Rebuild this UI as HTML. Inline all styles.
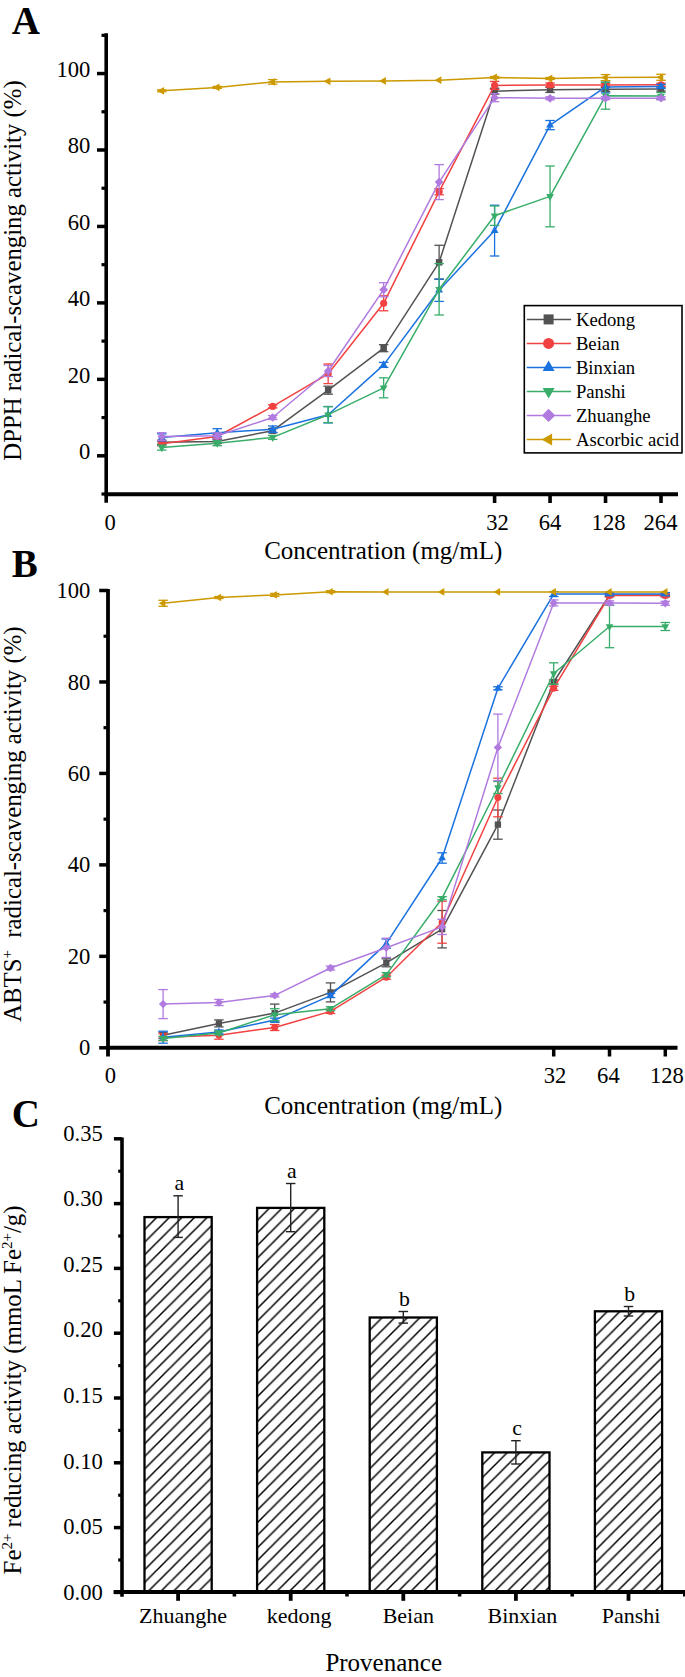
<!DOCTYPE html><html><head><meta charset="utf-8"><style>html,body{margin:0;padding:0;background:#fff;overflow:hidden;width:685px;height:1677px;}svg{display:block;}</style></head><body><svg width="685" height="1677" viewBox="0 0 685 1677" font-family='"Liberation Serif", serif'>
<rect width="685" height="1677" fill="#fff"/>
<text x="11.7" y="33.7" font-size="39" font-weight="bold">A</text>
<line x1="106.2" y1="33.2" x2="106.2" y2="502.7" stroke="#000" stroke-width="3.6"/>
<line x1="104.4" y1="494.2" x2="678" y2="494.2" stroke="#000" stroke-width="4"/>
<line x1="97" y1="455.8" x2="106.2" y2="455.8" stroke="#000" stroke-width="3.5"/>
<text x="90.3" y="459.2" font-size="22.6" text-anchor="end">0</text>
<line x1="97" y1="379.35" x2="106.2" y2="379.35" stroke="#000" stroke-width="3.5"/>
<text x="90.3" y="382.75" font-size="22.6" text-anchor="end">20</text>
<line x1="97" y1="302.9" x2="106.2" y2="302.9" stroke="#000" stroke-width="3.5"/>
<text x="90.3" y="306.3" font-size="22.6" text-anchor="end">40</text>
<line x1="97" y1="226.45" x2="106.2" y2="226.45" stroke="#000" stroke-width="3.5"/>
<text x="90.3" y="229.85" font-size="22.6" text-anchor="end">60</text>
<line x1="97" y1="150" x2="106.2" y2="150" stroke="#000" stroke-width="3.5"/>
<text x="90.3" y="153.4" font-size="22.6" text-anchor="end">80</text>
<line x1="97" y1="73.55" x2="106.2" y2="73.55" stroke="#000" stroke-width="3.5"/>
<text x="90.3" y="76.95" font-size="22.6" text-anchor="end">100</text>
<line x1="101.5" y1="417.58" x2="106.2" y2="417.58" stroke="#000" stroke-width="3.2"/>
<line x1="101.5" y1="341.12" x2="106.2" y2="341.12" stroke="#000" stroke-width="3.2"/>
<line x1="101.5" y1="264.68" x2="106.2" y2="264.68" stroke="#000" stroke-width="3.2"/>
<line x1="101.5" y1="188.23" x2="106.2" y2="188.23" stroke="#000" stroke-width="3.2"/>
<line x1="101.5" y1="111.78" x2="106.2" y2="111.78" stroke="#000" stroke-width="3.2"/>
<line x1="101.5" y1="35.33" x2="106.2" y2="35.33" stroke="#000" stroke-width="3.2"/>
<line x1="101.5" y1="494.02" x2="106.2" y2="494.02" stroke="#000" stroke-width="3.2"/>
<line x1="494.59" y1="494.2" x2="494.59" y2="503" stroke="#000" stroke-width="3.6"/>
<text x="497.59" y="530" font-size="22.6" text-anchor="middle">32</text>
<line x1="550.06" y1="494.2" x2="550.06" y2="503" stroke="#000" stroke-width="3.6"/>
<text x="550.06" y="530" font-size="22.6" text-anchor="middle">64</text>
<line x1="605.53" y1="494.2" x2="605.53" y2="503" stroke="#000" stroke-width="3.6"/>
<text x="608.53" y="530" font-size="22.6" text-anchor="middle">128</text>
<line x1="661" y1="494.2" x2="661" y2="503" stroke="#000" stroke-width="3.6"/>
<text x="660.5" y="530" font-size="22.6" text-anchor="middle">264</text>
<text x="110.1" y="529.5" font-size="22.6" text-anchor="middle">0</text>
<text x="264.2" y="558.8" font-size="25">Concentration (mg/mL)</text>
<text transform="translate(21,460) rotate(-90)" x="-0.7" y="0" font-size="24.78">DPPH radical-scavenging activity (%)</text>
<g>
<line x1="161.77" y1="440.3" x2="161.77" y2="444.3" stroke="#525252" stroke-width="1.3"/>
<line x1="157.02" y1="440.3" x2="166.52" y2="440.3" stroke="#525252" stroke-width="1.3"/>
<line x1="157.02" y1="444.3" x2="166.52" y2="444.3" stroke="#525252" stroke-width="1.3"/>
<line x1="217.24" y1="439.4" x2="217.24" y2="443.4" stroke="#525252" stroke-width="1.3"/>
<line x1="212.49" y1="439.4" x2="221.99" y2="439.4" stroke="#525252" stroke-width="1.3"/>
<line x1="212.49" y1="443.4" x2="221.99" y2="443.4" stroke="#525252" stroke-width="1.3"/>
<line x1="272.71" y1="428.7" x2="272.71" y2="432.7" stroke="#525252" stroke-width="1.3"/>
<line x1="267.96" y1="428.7" x2="277.46" y2="428.7" stroke="#525252" stroke-width="1.3"/>
<line x1="267.96" y1="432.7" x2="277.46" y2="432.7" stroke="#525252" stroke-width="1.3"/>
<line x1="328.18" y1="386.2" x2="328.18" y2="394.2" stroke="#525252" stroke-width="1.3"/>
<line x1="323.43" y1="386.2" x2="332.93" y2="386.2" stroke="#525252" stroke-width="1.3"/>
<line x1="323.43" y1="394.2" x2="332.93" y2="394.2" stroke="#525252" stroke-width="1.3"/>
<line x1="383.65" y1="344.7" x2="383.65" y2="351.7" stroke="#525252" stroke-width="1.3"/>
<line x1="378.9" y1="344.7" x2="388.4" y2="344.7" stroke="#525252" stroke-width="1.3"/>
<line x1="378.9" y1="351.7" x2="388.4" y2="351.7" stroke="#525252" stroke-width="1.3"/>
<line x1="439.12" y1="245.3" x2="439.12" y2="279.3" stroke="#525252" stroke-width="1.3"/>
<line x1="434.37" y1="245.3" x2="443.87" y2="245.3" stroke="#525252" stroke-width="1.3"/>
<line x1="434.37" y1="279.3" x2="443.87" y2="279.3" stroke="#525252" stroke-width="1.3"/>
<line x1="494.59" y1="88.2" x2="494.59" y2="94.2" stroke="#525252" stroke-width="1.3"/>
<line x1="489.84" y1="88.2" x2="499.34" y2="88.2" stroke="#525252" stroke-width="1.3"/>
<line x1="489.84" y1="94.2" x2="499.34" y2="94.2" stroke="#525252" stroke-width="1.3"/>
<line x1="550.06" y1="87.2" x2="550.06" y2="92.4" stroke="#525252" stroke-width="1.3"/>
<line x1="545.31" y1="87.2" x2="554.81" y2="87.2" stroke="#525252" stroke-width="1.3"/>
<line x1="545.31" y1="92.4" x2="554.81" y2="92.4" stroke="#525252" stroke-width="1.3"/>
<line x1="605.53" y1="87.3" x2="605.53" y2="91.3" stroke="#525252" stroke-width="1.3"/>
<line x1="600.78" y1="87.3" x2="610.28" y2="87.3" stroke="#525252" stroke-width="1.3"/>
<line x1="600.78" y1="91.3" x2="610.28" y2="91.3" stroke="#525252" stroke-width="1.3"/>
<line x1="661" y1="87.1" x2="661" y2="91.1" stroke="#525252" stroke-width="1.3"/>
<line x1="656.25" y1="87.1" x2="665.75" y2="87.1" stroke="#525252" stroke-width="1.3"/>
<line x1="656.25" y1="91.1" x2="665.75" y2="91.1" stroke="#525252" stroke-width="1.3"/>
<polyline points="161.77,442.3 217.24,441.4 272.71,430.7 328.18,390.2 383.65,348.2 439.12,262.3 494.59,91.2 550.06,89.8 605.53,89.3 661,89.1" fill="none" stroke="#525252" stroke-width="1.5" stroke-linejoin="round"/>
<rect x="158.52" y="439.05" width="6.5" height="6.5" fill="#525252"/>
<rect x="213.99" y="438.15" width="6.5" height="6.5" fill="#525252"/>
<rect x="269.46" y="427.45" width="6.5" height="6.5" fill="#525252"/>
<rect x="324.93" y="386.95" width="6.5" height="6.5" fill="#525252"/>
<rect x="380.4" y="344.95" width="6.5" height="6.5" fill="#525252"/>
<rect x="435.87" y="259.05" width="6.5" height="6.5" fill="#525252"/>
<rect x="491.34" y="87.95" width="6.5" height="6.5" fill="#525252"/>
<rect x="546.81" y="86.55" width="6.5" height="6.5" fill="#525252"/>
<rect x="602.28" y="86.05" width="6.5" height="6.5" fill="#525252"/>
<rect x="657.75" y="85.85" width="6.5" height="6.5" fill="#525252"/>
</g>
<g>
<line x1="161.77" y1="441.8" x2="161.77" y2="445.8" stroke="#F24141" stroke-width="1.3"/>
<line x1="157.02" y1="441.8" x2="166.52" y2="441.8" stroke="#F24141" stroke-width="1.3"/>
<line x1="157.02" y1="445.8" x2="166.52" y2="445.8" stroke="#F24141" stroke-width="1.3"/>
<line x1="217.24" y1="434.5" x2="217.24" y2="438.5" stroke="#F24141" stroke-width="1.3"/>
<line x1="212.49" y1="434.5" x2="221.99" y2="434.5" stroke="#F24141" stroke-width="1.3"/>
<line x1="212.49" y1="438.5" x2="221.99" y2="438.5" stroke="#F24141" stroke-width="1.3"/>
<line x1="272.71" y1="404.9" x2="272.71" y2="407.9" stroke="#F24141" stroke-width="1.3"/>
<line x1="267.96" y1="404.9" x2="277.46" y2="404.9" stroke="#F24141" stroke-width="1.3"/>
<line x1="267.96" y1="407.9" x2="277.46" y2="407.9" stroke="#F24141" stroke-width="1.3"/>
<line x1="328.18" y1="364" x2="328.18" y2="383.6" stroke="#F24141" stroke-width="1.3"/>
<line x1="323.43" y1="364" x2="332.93" y2="364" stroke="#F24141" stroke-width="1.3"/>
<line x1="323.43" y1="383.6" x2="332.93" y2="383.6" stroke="#F24141" stroke-width="1.3"/>
<line x1="383.65" y1="295.8" x2="383.65" y2="310.8" stroke="#F24141" stroke-width="1.3"/>
<line x1="378.9" y1="295.8" x2="388.4" y2="295.8" stroke="#F24141" stroke-width="1.3"/>
<line x1="378.9" y1="310.8" x2="388.4" y2="310.8" stroke="#F24141" stroke-width="1.3"/>
<line x1="439.12" y1="188.6" x2="439.12" y2="194.8" stroke="#F24141" stroke-width="1.3"/>
<line x1="434.37" y1="188.6" x2="443.87" y2="188.6" stroke="#F24141" stroke-width="1.3"/>
<line x1="434.37" y1="194.8" x2="443.87" y2="194.8" stroke="#F24141" stroke-width="1.3"/>
<line x1="494.59" y1="81.4" x2="494.59" y2="89.4" stroke="#F24141" stroke-width="1.3"/>
<line x1="489.84" y1="81.4" x2="499.34" y2="81.4" stroke="#F24141" stroke-width="1.3"/>
<line x1="489.84" y1="89.4" x2="499.34" y2="89.4" stroke="#F24141" stroke-width="1.3"/>
<line x1="550.06" y1="83" x2="550.06" y2="87" stroke="#F24141" stroke-width="1.3"/>
<line x1="545.31" y1="83" x2="554.81" y2="83" stroke="#F24141" stroke-width="1.3"/>
<line x1="545.31" y1="87" x2="554.81" y2="87" stroke="#F24141" stroke-width="1.3"/>
<line x1="605.53" y1="83.5" x2="605.53" y2="86.5" stroke="#F24141" stroke-width="1.3"/>
<line x1="600.78" y1="83.5" x2="610.28" y2="83.5" stroke="#F24141" stroke-width="1.3"/>
<line x1="600.78" y1="86.5" x2="610.28" y2="86.5" stroke="#F24141" stroke-width="1.3"/>
<line x1="661" y1="83.3" x2="661" y2="86.3" stroke="#F24141" stroke-width="1.3"/>
<line x1="656.25" y1="83.3" x2="665.75" y2="83.3" stroke="#F24141" stroke-width="1.3"/>
<line x1="656.25" y1="86.3" x2="665.75" y2="86.3" stroke="#F24141" stroke-width="1.3"/>
<polyline points="161.77,443.8 217.24,436.5 272.71,406.4 328.18,373.8 383.65,303.3 439.12,191.7 494.59,85.4 550.06,85 605.53,85 661,84.8" fill="none" stroke="#F24141" stroke-width="1.5" stroke-linejoin="round"/>
<circle cx="161.77" cy="443.8" r="3.58" fill="#F24141"/>
<circle cx="217.24" cy="436.5" r="3.58" fill="#F24141"/>
<circle cx="272.71" cy="406.4" r="3.58" fill="#F24141"/>
<circle cx="328.18" cy="373.8" r="3.58" fill="#F24141"/>
<circle cx="383.65" cy="303.3" r="3.58" fill="#F24141"/>
<circle cx="439.12" cy="191.7" r="3.58" fill="#F24141"/>
<circle cx="494.59" cy="85.4" r="3.58" fill="#F24141"/>
<circle cx="550.06" cy="85" r="3.58" fill="#F24141"/>
<circle cx="605.53" cy="85" r="3.58" fill="#F24141"/>
<circle cx="661" cy="84.8" r="3.58" fill="#F24141"/>
</g>
<g>
<line x1="161.77" y1="433.9" x2="161.77" y2="440.9" stroke="#1A72DF" stroke-width="1.3"/>
<line x1="157.02" y1="433.9" x2="166.52" y2="433.9" stroke="#1A72DF" stroke-width="1.3"/>
<line x1="157.02" y1="440.9" x2="166.52" y2="440.9" stroke="#1A72DF" stroke-width="1.3"/>
<line x1="217.24" y1="428.7" x2="217.24" y2="436.7" stroke="#1A72DF" stroke-width="1.3"/>
<line x1="212.49" y1="428.7" x2="221.99" y2="428.7" stroke="#1A72DF" stroke-width="1.3"/>
<line x1="212.49" y1="436.7" x2="221.99" y2="436.7" stroke="#1A72DF" stroke-width="1.3"/>
<line x1="272.71" y1="426" x2="272.71" y2="432.4" stroke="#1A72DF" stroke-width="1.3"/>
<line x1="267.96" y1="426" x2="277.46" y2="426" stroke="#1A72DF" stroke-width="1.3"/>
<line x1="267.96" y1="432.4" x2="277.46" y2="432.4" stroke="#1A72DF" stroke-width="1.3"/>
<line x1="328.18" y1="406.5" x2="328.18" y2="422.9" stroke="#1A72DF" stroke-width="1.3"/>
<line x1="323.43" y1="406.5" x2="332.93" y2="406.5" stroke="#1A72DF" stroke-width="1.3"/>
<line x1="323.43" y1="422.9" x2="332.93" y2="422.9" stroke="#1A72DF" stroke-width="1.3"/>
<line x1="383.65" y1="362.4" x2="383.65" y2="367.4" stroke="#1A72DF" stroke-width="1.3"/>
<line x1="378.9" y1="362.4" x2="388.4" y2="362.4" stroke="#1A72DF" stroke-width="1.3"/>
<line x1="378.9" y1="367.4" x2="388.4" y2="367.4" stroke="#1A72DF" stroke-width="1.3"/>
<line x1="439.12" y1="279" x2="439.12" y2="301.4" stroke="#1A72DF" stroke-width="1.3"/>
<line x1="434.37" y1="279" x2="443.87" y2="279" stroke="#1A72DF" stroke-width="1.3"/>
<line x1="434.37" y1="301.4" x2="443.87" y2="301.4" stroke="#1A72DF" stroke-width="1.3"/>
<line x1="494.59" y1="205.2" x2="494.59" y2="256" stroke="#1A72DF" stroke-width="1.3"/>
<line x1="489.84" y1="205.2" x2="499.34" y2="205.2" stroke="#1A72DF" stroke-width="1.3"/>
<line x1="489.84" y1="256" x2="499.34" y2="256" stroke="#1A72DF" stroke-width="1.3"/>
<line x1="550.06" y1="120.5" x2="550.06" y2="129.7" stroke="#1A72DF" stroke-width="1.3"/>
<line x1="545.31" y1="120.5" x2="554.81" y2="120.5" stroke="#1A72DF" stroke-width="1.3"/>
<line x1="545.31" y1="129.7" x2="554.81" y2="129.7" stroke="#1A72DF" stroke-width="1.3"/>
<line x1="605.53" y1="80.9" x2="605.53" y2="92.9" stroke="#1A72DF" stroke-width="1.3"/>
<line x1="600.78" y1="80.9" x2="610.28" y2="80.9" stroke="#1A72DF" stroke-width="1.3"/>
<line x1="600.78" y1="92.9" x2="610.28" y2="92.9" stroke="#1A72DF" stroke-width="1.3"/>
<line x1="661" y1="84.4" x2="661" y2="88.4" stroke="#1A72DF" stroke-width="1.3"/>
<line x1="656.25" y1="84.4" x2="665.75" y2="84.4" stroke="#1A72DF" stroke-width="1.3"/>
<line x1="656.25" y1="88.4" x2="665.75" y2="88.4" stroke="#1A72DF" stroke-width="1.3"/>
<polyline points="161.77,437.4 217.24,432.7 272.71,429.2 328.18,414.7 383.65,364.9 439.12,290.2 494.59,230.6 550.06,125.1 605.53,86.9 661,86.4" fill="none" stroke="#1A72DF" stroke-width="1.5" stroke-linejoin="round"/>
<polygon points="161.77,432.85 165.67,439.67 157.87,439.67" fill="#1A72DF"/>
<polygon points="217.24,428.15 221.14,434.97 213.34,434.97" fill="#1A72DF"/>
<polygon points="272.71,424.65 276.61,431.47 268.81,431.47" fill="#1A72DF"/>
<polygon points="328.18,410.15 332.08,416.97 324.28,416.97" fill="#1A72DF"/>
<polygon points="383.65,360.35 387.55,367.17 379.75,367.17" fill="#1A72DF"/>
<polygon points="439.12,285.65 443.02,292.47 435.22,292.47" fill="#1A72DF"/>
<polygon points="494.59,226.05 498.49,232.88 490.69,232.88" fill="#1A72DF"/>
<polygon points="550.06,120.55 553.96,127.38 546.16,127.38" fill="#1A72DF"/>
<polygon points="605.53,82.35 609.43,89.18 601.63,89.18" fill="#1A72DF"/>
<polygon points="661,81.85 664.9,88.68 657.1,88.68" fill="#1A72DF"/>
</g>
<g>
<line x1="161.77" y1="445.1" x2="161.77" y2="450.1" stroke="#38AD6A" stroke-width="1.3"/>
<line x1="157.02" y1="445.1" x2="166.52" y2="445.1" stroke="#38AD6A" stroke-width="1.3"/>
<line x1="157.02" y1="450.1" x2="166.52" y2="450.1" stroke="#38AD6A" stroke-width="1.3"/>
<line x1="217.24" y1="440.7" x2="217.24" y2="445.7" stroke="#38AD6A" stroke-width="1.3"/>
<line x1="212.49" y1="440.7" x2="221.99" y2="440.7" stroke="#38AD6A" stroke-width="1.3"/>
<line x1="212.49" y1="445.7" x2="221.99" y2="445.7" stroke="#38AD6A" stroke-width="1.3"/>
<line x1="272.71" y1="435.4" x2="272.71" y2="439.4" stroke="#38AD6A" stroke-width="1.3"/>
<line x1="267.96" y1="435.4" x2="277.46" y2="435.4" stroke="#38AD6A" stroke-width="1.3"/>
<line x1="267.96" y1="439.4" x2="277.46" y2="439.4" stroke="#38AD6A" stroke-width="1.3"/>
<line x1="328.18" y1="406.7" x2="328.18" y2="422.7" stroke="#38AD6A" stroke-width="1.3"/>
<line x1="323.43" y1="406.7" x2="332.93" y2="406.7" stroke="#38AD6A" stroke-width="1.3"/>
<line x1="323.43" y1="422.7" x2="332.93" y2="422.7" stroke="#38AD6A" stroke-width="1.3"/>
<line x1="383.65" y1="377.8" x2="383.65" y2="397.8" stroke="#38AD6A" stroke-width="1.3"/>
<line x1="378.9" y1="377.8" x2="388.4" y2="377.8" stroke="#38AD6A" stroke-width="1.3"/>
<line x1="378.9" y1="397.8" x2="388.4" y2="397.8" stroke="#38AD6A" stroke-width="1.3"/>
<line x1="439.12" y1="263.6" x2="439.12" y2="315" stroke="#38AD6A" stroke-width="1.3"/>
<line x1="434.37" y1="263.6" x2="443.87" y2="263.6" stroke="#38AD6A" stroke-width="1.3"/>
<line x1="434.37" y1="315" x2="443.87" y2="315" stroke="#38AD6A" stroke-width="1.3"/>
<line x1="494.59" y1="206" x2="494.59" y2="225.4" stroke="#38AD6A" stroke-width="1.3"/>
<line x1="489.84" y1="206" x2="499.34" y2="206" stroke="#38AD6A" stroke-width="1.3"/>
<line x1="489.84" y1="225.4" x2="499.34" y2="225.4" stroke="#38AD6A" stroke-width="1.3"/>
<line x1="550.06" y1="166" x2="550.06" y2="226.8" stroke="#38AD6A" stroke-width="1.3"/>
<line x1="545.31" y1="166" x2="554.81" y2="166" stroke="#38AD6A" stroke-width="1.3"/>
<line x1="545.31" y1="226.8" x2="554.81" y2="226.8" stroke="#38AD6A" stroke-width="1.3"/>
<line x1="605.53" y1="82.4" x2="605.53" y2="109.2" stroke="#38AD6A" stroke-width="1.3"/>
<line x1="600.78" y1="82.4" x2="610.28" y2="82.4" stroke="#38AD6A" stroke-width="1.3"/>
<line x1="600.78" y1="109.2" x2="610.28" y2="109.2" stroke="#38AD6A" stroke-width="1.3"/>
<line x1="661" y1="92.5" x2="661" y2="99.5" stroke="#38AD6A" stroke-width="1.3"/>
<line x1="656.25" y1="92.5" x2="665.75" y2="92.5" stroke="#38AD6A" stroke-width="1.3"/>
<line x1="656.25" y1="99.5" x2="665.75" y2="99.5" stroke="#38AD6A" stroke-width="1.3"/>
<polyline points="161.77,447.6 217.24,443.2 272.71,437.4 328.18,414.7 383.65,387.8 439.12,289.3 494.59,215.7 550.06,196.4 605.53,95.8 661,96" fill="none" stroke="#38AD6A" stroke-width="1.5" stroke-linejoin="round"/>
<polygon points="161.77,452.15 165.67,445.33 157.87,445.33" fill="#38AD6A"/>
<polygon points="217.24,447.75 221.14,440.93 213.34,440.93" fill="#38AD6A"/>
<polygon points="272.71,441.95 276.61,435.12 268.81,435.12" fill="#38AD6A"/>
<polygon points="328.18,419.25 332.08,412.43 324.28,412.43" fill="#38AD6A"/>
<polygon points="383.65,392.35 387.55,385.53 379.75,385.53" fill="#38AD6A"/>
<polygon points="439.12,293.85 443.02,287.03 435.22,287.03" fill="#38AD6A"/>
<polygon points="494.59,220.25 498.49,213.42 490.69,213.42" fill="#38AD6A"/>
<polygon points="550.06,200.95 553.96,194.12 546.16,194.12" fill="#38AD6A"/>
<polygon points="605.53,100.35 609.43,93.52 601.63,93.52" fill="#38AD6A"/>
<polygon points="661,100.55 664.9,93.72 657.1,93.72" fill="#38AD6A"/>
</g>
<g>
<line x1="161.77" y1="432.7" x2="161.77" y2="440.3" stroke="#B07ADF" stroke-width="1.3"/>
<line x1="157.02" y1="432.7" x2="166.52" y2="432.7" stroke="#B07ADF" stroke-width="1.3"/>
<line x1="157.02" y1="440.3" x2="166.52" y2="440.3" stroke="#B07ADF" stroke-width="1.3"/>
<line x1="217.24" y1="432.8" x2="217.24" y2="438.8" stroke="#B07ADF" stroke-width="1.3"/>
<line x1="212.49" y1="432.8" x2="221.99" y2="432.8" stroke="#B07ADF" stroke-width="1.3"/>
<line x1="212.49" y1="438.8" x2="221.99" y2="438.8" stroke="#B07ADF" stroke-width="1.3"/>
<line x1="272.71" y1="415.5" x2="272.71" y2="419.5" stroke="#B07ADF" stroke-width="1.3"/>
<line x1="267.96" y1="415.5" x2="277.46" y2="415.5" stroke="#B07ADF" stroke-width="1.3"/>
<line x1="267.96" y1="419.5" x2="277.46" y2="419.5" stroke="#B07ADF" stroke-width="1.3"/>
<line x1="328.18" y1="365.5" x2="328.18" y2="376.5" stroke="#B07ADF" stroke-width="1.3"/>
<line x1="323.43" y1="365.5" x2="332.93" y2="365.5" stroke="#B07ADF" stroke-width="1.3"/>
<line x1="323.43" y1="376.5" x2="332.93" y2="376.5" stroke="#B07ADF" stroke-width="1.3"/>
<line x1="383.65" y1="282.7" x2="383.65" y2="296.7" stroke="#B07ADF" stroke-width="1.3"/>
<line x1="378.9" y1="282.7" x2="388.4" y2="282.7" stroke="#B07ADF" stroke-width="1.3"/>
<line x1="378.9" y1="296.7" x2="388.4" y2="296.7" stroke="#B07ADF" stroke-width="1.3"/>
<line x1="439.12" y1="164.6" x2="439.12" y2="199.6" stroke="#B07ADF" stroke-width="1.3"/>
<line x1="434.37" y1="164.6" x2="443.87" y2="164.6" stroke="#B07ADF" stroke-width="1.3"/>
<line x1="434.37" y1="199.6" x2="443.87" y2="199.6" stroke="#B07ADF" stroke-width="1.3"/>
<line x1="494.59" y1="93.7" x2="494.59" y2="101.7" stroke="#B07ADF" stroke-width="1.3"/>
<line x1="489.84" y1="93.7" x2="499.34" y2="93.7" stroke="#B07ADF" stroke-width="1.3"/>
<line x1="489.84" y1="101.7" x2="499.34" y2="101.7" stroke="#B07ADF" stroke-width="1.3"/>
<line x1="550.06" y1="96.8" x2="550.06" y2="99.8" stroke="#B07ADF" stroke-width="1.3"/>
<line x1="545.31" y1="96.8" x2="554.81" y2="96.8" stroke="#B07ADF" stroke-width="1.3"/>
<line x1="545.31" y1="99.8" x2="554.81" y2="99.8" stroke="#B07ADF" stroke-width="1.3"/>
<line x1="605.53" y1="96.7" x2="605.53" y2="99.7" stroke="#B07ADF" stroke-width="1.3"/>
<line x1="600.78" y1="96.7" x2="610.28" y2="96.7" stroke="#B07ADF" stroke-width="1.3"/>
<line x1="600.78" y1="99.7" x2="610.28" y2="99.7" stroke="#B07ADF" stroke-width="1.3"/>
<line x1="661" y1="96.7" x2="661" y2="99.7" stroke="#B07ADF" stroke-width="1.3"/>
<line x1="656.25" y1="96.7" x2="665.75" y2="96.7" stroke="#B07ADF" stroke-width="1.3"/>
<line x1="656.25" y1="99.7" x2="665.75" y2="99.7" stroke="#B07ADF" stroke-width="1.3"/>
<polyline points="161.77,436.5 217.24,435.8 272.71,417.5 328.18,371 383.65,289.7 439.12,182.1 494.59,97.7 550.06,98.3 605.53,98.2 661,98.2" fill="none" stroke="#B07ADF" stroke-width="1.5" stroke-linejoin="round"/>
<polygon points="161.77,432.14 166.12,436.5 161.77,440.86 157.41,436.5" fill="#B07ADF"/>
<polygon points="217.24,431.44 221.59,435.8 217.24,440.16 212.89,435.8" fill="#B07ADF"/>
<polygon points="272.71,413.14 277.06,417.5 272.71,421.86 268.35,417.5" fill="#B07ADF"/>
<polygon points="328.18,366.64 332.54,371 328.18,375.36 323.82,371" fill="#B07ADF"/>
<polygon points="383.65,285.34 388.01,289.7 383.65,294.06 379.3,289.7" fill="#B07ADF"/>
<polygon points="439.12,177.75 443.48,182.1 439.12,186.45 434.76,182.1" fill="#B07ADF"/>
<polygon points="494.59,93.34 498.94,97.7 494.59,102.06 490.23,97.7" fill="#B07ADF"/>
<polygon points="550.06,93.94 554.41,98.3 550.06,102.66 545.7,98.3" fill="#B07ADF"/>
<polygon points="605.53,93.84 609.88,98.2 605.53,102.56 601.17,98.2" fill="#B07ADF"/>
<polygon points="661,93.84 665.36,98.2 661,102.56 656.64,98.2" fill="#B07ADF"/>
</g>
<g>
<line x1="161.77" y1="89.8" x2="161.77" y2="91.8" stroke="#CC9900" stroke-width="1.3"/>
<line x1="157.02" y1="89.8" x2="166.52" y2="89.8" stroke="#CC9900" stroke-width="1.3"/>
<line x1="157.02" y1="91.8" x2="166.52" y2="91.8" stroke="#CC9900" stroke-width="1.3"/>
<line x1="217.24" y1="86.4" x2="217.24" y2="88.4" stroke="#CC9900" stroke-width="1.3"/>
<line x1="212.49" y1="86.4" x2="221.99" y2="86.4" stroke="#CC9900" stroke-width="1.3"/>
<line x1="212.49" y1="88.4" x2="221.99" y2="88.4" stroke="#CC9900" stroke-width="1.3"/>
<line x1="272.71" y1="79.6" x2="272.71" y2="84.2" stroke="#CC9900" stroke-width="1.3"/>
<line x1="267.96" y1="79.6" x2="277.46" y2="79.6" stroke="#CC9900" stroke-width="1.3"/>
<line x1="267.96" y1="84.2" x2="277.46" y2="84.2" stroke="#CC9900" stroke-width="1.3"/>
<line x1="494.59" y1="76.5" x2="494.59" y2="78.5" stroke="#CC9900" stroke-width="1.3"/>
<line x1="489.84" y1="76.5" x2="499.34" y2="76.5" stroke="#CC9900" stroke-width="1.3"/>
<line x1="489.84" y1="78.5" x2="499.34" y2="78.5" stroke="#CC9900" stroke-width="1.3"/>
<line x1="550.06" y1="77.5" x2="550.06" y2="79.5" stroke="#CC9900" stroke-width="1.3"/>
<line x1="545.31" y1="77.5" x2="554.81" y2="77.5" stroke="#CC9900" stroke-width="1.3"/>
<line x1="545.31" y1="79.5" x2="554.81" y2="79.5" stroke="#CC9900" stroke-width="1.3"/>
<line x1="605.53" y1="74.6" x2="605.53" y2="80.6" stroke="#CC9900" stroke-width="1.3"/>
<line x1="600.78" y1="74.6" x2="610.28" y2="74.6" stroke="#CC9900" stroke-width="1.3"/>
<line x1="600.78" y1="80.6" x2="610.28" y2="80.6" stroke="#CC9900" stroke-width="1.3"/>
<line x1="661" y1="74.3" x2="661" y2="80.3" stroke="#CC9900" stroke-width="1.3"/>
<line x1="656.25" y1="74.3" x2="665.75" y2="74.3" stroke="#CC9900" stroke-width="1.3"/>
<line x1="656.25" y1="80.3" x2="665.75" y2="80.3" stroke="#CC9900" stroke-width="1.3"/>
<polyline points="161.77,90.8 217.24,87.4 272.71,81.9 328.18,81.3 383.65,80.9 439.12,80.2 494.59,77.5 550.06,78.5 605.53,77.6 661,77.3" fill="none" stroke="#CC9900" stroke-width="1.5" stroke-linejoin="round"/>
<polygon points="157.22,90.8 164.04,86.9 164.04,94.7" fill="#CC9900"/>
<polygon points="212.69,87.4 219.52,83.5 219.52,91.3" fill="#CC9900"/>
<polygon points="268.16,81.9 274.98,78 274.98,85.8" fill="#CC9900"/>
<polygon points="323.63,81.3 330.45,77.4 330.45,85.2" fill="#CC9900"/>
<polygon points="379.1,80.9 385.93,77 385.93,84.8" fill="#CC9900"/>
<polygon points="434.57,80.2 441.39,76.3 441.39,84.1" fill="#CC9900"/>
<polygon points="490.04,77.5 496.86,73.6 496.86,81.4" fill="#CC9900"/>
<polygon points="545.51,78.5 552.33,74.6 552.33,82.4" fill="#CC9900"/>
<polygon points="600.98,77.6 607.8,73.7 607.8,81.5" fill="#CC9900"/>
<polygon points="656.45,77.3 663.27,73.4 663.27,81.2" fill="#CC9900"/>
</g>
<rect x="524.3" y="305.6" width="157.7" height="147.3" fill="#fff" stroke="#000" stroke-width="1.6"/>
<line x1="526.8" y1="319.4" x2="571.1" y2="319.4" stroke="#525252" stroke-width="1.5"/>
<rect x="543.6" y="314.4" width="10" height="10" fill="#525252"/>
<text x="575.9" y="326" font-size="18.7">Kedong</text>
<line x1="526.8" y1="343.4" x2="571.1" y2="343.4" stroke="#F24141" stroke-width="1.5"/>
<circle cx="548.6" cy="343.4" r="5.5" fill="#F24141"/>
<text x="575.9" y="350" font-size="18.7">Beian</text>
<line x1="526.8" y1="367.4" x2="571.1" y2="367.4" stroke="#1A72DF" stroke-width="1.5"/>
<polygon points="548.6,360.4 554.6,370.9 542.6,370.9" fill="#1A72DF"/>
<text x="575.9" y="374" font-size="18.7">Binxian</text>
<line x1="526.8" y1="391.4" x2="571.1" y2="391.4" stroke="#38AD6A" stroke-width="1.5"/>
<polygon points="548.6,398.4 554.6,387.9 542.6,387.9" fill="#38AD6A"/>
<text x="575.9" y="398" font-size="18.7">Panshi</text>
<line x1="526.8" y1="415.4" x2="571.1" y2="415.4" stroke="#B07ADF" stroke-width="1.5"/>
<polygon points="548.6,408.7 555.3,415.4 548.6,422.1 541.9,415.4" fill="#B07ADF"/>
<text x="575.9" y="422" font-size="18.7">Zhuanghe</text>
<line x1="526.8" y1="439.4" x2="571.1" y2="439.4" stroke="#CC9900" stroke-width="1.5"/>
<polygon points="541.6,439.4 552.1,433.4 552.1,445.4" fill="#CC9900"/>
<text x="575.9" y="446" font-size="18.7">Ascorbic acid</text>
<text x="11.7" y="576.5" font-size="39" font-weight="bold">B</text>
<line x1="108" y1="589" x2="108" y2="1056.4" stroke="#000" stroke-width="3.8"/>
<line x1="108" y1="1047.8" x2="677.5" y2="1047.8" stroke="#000" stroke-width="4"/>
<line x1="99.2" y1="1047.8" x2="108" y2="1047.8" stroke="#000" stroke-width="3.5"/>
<text x="90.3" y="1055.4" font-size="22.6" text-anchor="end">0</text>
<line x1="99.2" y1="956.34" x2="108" y2="956.34" stroke="#000" stroke-width="3.5"/>
<text x="90.3" y="963.94" font-size="22.6" text-anchor="end">20</text>
<line x1="99.2" y1="864.88" x2="108" y2="864.88" stroke="#000" stroke-width="3.5"/>
<text x="90.3" y="872.48" font-size="22.6" text-anchor="end">40</text>
<line x1="99.2" y1="773.42" x2="108" y2="773.42" stroke="#000" stroke-width="3.5"/>
<text x="90.3" y="781.02" font-size="22.6" text-anchor="end">60</text>
<line x1="99.2" y1="681.96" x2="108" y2="681.96" stroke="#000" stroke-width="3.5"/>
<text x="90.3" y="689.56" font-size="22.6" text-anchor="end">80</text>
<line x1="99.2" y1="590.5" x2="108" y2="590.5" stroke="#000" stroke-width="3.5"/>
<text x="90.3" y="598.1" font-size="22.6" text-anchor="end">100</text>
<line x1="103.5" y1="1002.07" x2="108" y2="1002.07" stroke="#000" stroke-width="3.2"/>
<line x1="103.5" y1="910.61" x2="108" y2="910.61" stroke="#000" stroke-width="3.2"/>
<line x1="103.5" y1="819.15" x2="108" y2="819.15" stroke="#000" stroke-width="3.2"/>
<line x1="103.5" y1="727.69" x2="108" y2="727.69" stroke="#000" stroke-width="3.2"/>
<line x1="103.5" y1="636.23" x2="108" y2="636.23" stroke="#000" stroke-width="3.2"/>
<line x1="553.7" y1="1047.8" x2="553.7" y2="1056.5" stroke="#000" stroke-width="3.5"/>
<text x="555.1" y="1083" font-size="22.6" text-anchor="middle">32</text>
<line x1="609.5" y1="1047.8" x2="609.5" y2="1056.5" stroke="#000" stroke-width="3.5"/>
<text x="608.4" y="1083" font-size="22.6" text-anchor="middle">64</text>
<line x1="665.3" y1="1047.8" x2="665.3" y2="1056.5" stroke="#000" stroke-width="3.5"/>
<text x="666.9" y="1083" font-size="22.6" text-anchor="middle">128</text>
<text x="110.4" y="1083" font-size="22.6" text-anchor="middle">0</text>
<text x="264.2" y="1113.8" font-size="25">Concentration (mg/mL)</text>
<text transform="translate(21,1021.2) rotate(-90)" x="-0.7" y="0" font-size="24.8" xml:space="preserve">ABTS<tspan font-size="15" dy="-9">+</tspan><tspan dy="9">  radical-scavenging activity (%)</tspan></text>
<g>
<line x1="163.1" y1="1032.2" x2="163.1" y2="1038.2" stroke="#525252" stroke-width="1.3"/>
<line x1="158.35" y1="1032.2" x2="167.85" y2="1032.2" stroke="#525252" stroke-width="1.3"/>
<line x1="158.35" y1="1038.2" x2="167.85" y2="1038.2" stroke="#525252" stroke-width="1.3"/>
<line x1="218.9" y1="1019.9" x2="218.9" y2="1026.9" stroke="#525252" stroke-width="1.3"/>
<line x1="214.15" y1="1019.9" x2="223.65" y2="1019.9" stroke="#525252" stroke-width="1.3"/>
<line x1="214.15" y1="1026.9" x2="223.65" y2="1026.9" stroke="#525252" stroke-width="1.3"/>
<line x1="274.7" y1="1004.1" x2="274.7" y2="1022.1" stroke="#525252" stroke-width="1.3"/>
<line x1="269.95" y1="1004.1" x2="279.45" y2="1004.1" stroke="#525252" stroke-width="1.3"/>
<line x1="269.95" y1="1022.1" x2="279.45" y2="1022.1" stroke="#525252" stroke-width="1.3"/>
<line x1="330.5" y1="982.9" x2="330.5" y2="1001.9" stroke="#525252" stroke-width="1.3"/>
<line x1="325.75" y1="982.9" x2="335.25" y2="982.9" stroke="#525252" stroke-width="1.3"/>
<line x1="325.75" y1="1001.9" x2="335.25" y2="1001.9" stroke="#525252" stroke-width="1.3"/>
<line x1="386.3" y1="958.8" x2="386.3" y2="966.8" stroke="#525252" stroke-width="1.3"/>
<line x1="381.55" y1="958.8" x2="391.05" y2="958.8" stroke="#525252" stroke-width="1.3"/>
<line x1="381.55" y1="966.8" x2="391.05" y2="966.8" stroke="#525252" stroke-width="1.3"/>
<line x1="442.1" y1="910.5" x2="442.1" y2="947.9" stroke="#525252" stroke-width="1.3"/>
<line x1="437.35" y1="910.5" x2="446.85" y2="910.5" stroke="#525252" stroke-width="1.3"/>
<line x1="437.35" y1="947.9" x2="446.85" y2="947.9" stroke="#525252" stroke-width="1.3"/>
<line x1="497.9" y1="810" x2="497.9" y2="839.2" stroke="#525252" stroke-width="1.3"/>
<line x1="493.15" y1="810" x2="502.65" y2="810" stroke="#525252" stroke-width="1.3"/>
<line x1="493.15" y1="839.2" x2="502.65" y2="839.2" stroke="#525252" stroke-width="1.3"/>
<line x1="553.7" y1="680" x2="553.7" y2="684" stroke="#525252" stroke-width="1.3"/>
<line x1="548.95" y1="680" x2="558.45" y2="680" stroke="#525252" stroke-width="1.3"/>
<line x1="548.95" y1="684" x2="558.45" y2="684" stroke="#525252" stroke-width="1.3"/>
<line x1="609.5" y1="594.2" x2="609.5" y2="596.2" stroke="#525252" stroke-width="1.3"/>
<line x1="604.75" y1="594.2" x2="614.25" y2="594.2" stroke="#525252" stroke-width="1.3"/>
<line x1="604.75" y1="596.2" x2="614.25" y2="596.2" stroke="#525252" stroke-width="1.3"/>
<line x1="665.3" y1="594.2" x2="665.3" y2="596.2" stroke="#525252" stroke-width="1.3"/>
<line x1="660.55" y1="594.2" x2="670.05" y2="594.2" stroke="#525252" stroke-width="1.3"/>
<line x1="660.55" y1="596.2" x2="670.05" y2="596.2" stroke="#525252" stroke-width="1.3"/>
<polyline points="163.1,1035.2 218.9,1023.4 274.7,1013.1 330.5,992.4 386.3,962.8 442.1,929.2 497.9,824.6 553.7,682 609.5,595.2 665.3,595.2" fill="none" stroke="#525252" stroke-width="1.5" stroke-linejoin="round"/>
<rect x="159.95" y="1032.05" width="6.3" height="6.3" fill="#525252"/>
<rect x="215.75" y="1020.25" width="6.3" height="6.3" fill="#525252"/>
<rect x="271.55" y="1009.95" width="6.3" height="6.3" fill="#525252"/>
<rect x="327.35" y="989.25" width="6.3" height="6.3" fill="#525252"/>
<rect x="383.15" y="959.65" width="6.3" height="6.3" fill="#525252"/>
<rect x="438.95" y="926.05" width="6.3" height="6.3" fill="#525252"/>
<rect x="494.75" y="821.45" width="6.3" height="6.3" fill="#525252"/>
<rect x="550.55" y="678.85" width="6.3" height="6.3" fill="#525252"/>
<rect x="606.35" y="592.05" width="6.3" height="6.3" fill="#525252"/>
<rect x="662.15" y="592.05" width="6.3" height="6.3" fill="#525252"/>
</g>
<g>
<line x1="163.1" y1="1033.7" x2="163.1" y2="1040.7" stroke="#F24141" stroke-width="1.3"/>
<line x1="158.35" y1="1033.7" x2="167.85" y2="1033.7" stroke="#F24141" stroke-width="1.3"/>
<line x1="158.35" y1="1040.7" x2="167.85" y2="1040.7" stroke="#F24141" stroke-width="1.3"/>
<line x1="218.9" y1="1031.2" x2="218.9" y2="1039.2" stroke="#F24141" stroke-width="1.3"/>
<line x1="214.15" y1="1031.2" x2="223.65" y2="1031.2" stroke="#F24141" stroke-width="1.3"/>
<line x1="214.15" y1="1039.2" x2="223.65" y2="1039.2" stroke="#F24141" stroke-width="1.3"/>
<line x1="274.7" y1="1024.5" x2="274.7" y2="1030.5" stroke="#F24141" stroke-width="1.3"/>
<line x1="269.95" y1="1024.5" x2="279.45" y2="1024.5" stroke="#F24141" stroke-width="1.3"/>
<line x1="269.95" y1="1030.5" x2="279.45" y2="1030.5" stroke="#F24141" stroke-width="1.3"/>
<line x1="330.5" y1="1009.4" x2="330.5" y2="1013.4" stroke="#F24141" stroke-width="1.3"/>
<line x1="325.75" y1="1009.4" x2="335.25" y2="1009.4" stroke="#F24141" stroke-width="1.3"/>
<line x1="325.75" y1="1013.4" x2="335.25" y2="1013.4" stroke="#F24141" stroke-width="1.3"/>
<line x1="386.3" y1="975.2" x2="386.3" y2="979.2" stroke="#F24141" stroke-width="1.3"/>
<line x1="381.55" y1="975.2" x2="391.05" y2="975.2" stroke="#F24141" stroke-width="1.3"/>
<line x1="381.55" y1="979.2" x2="391.05" y2="979.2" stroke="#F24141" stroke-width="1.3"/>
<line x1="442.1" y1="901.2" x2="442.1" y2="943.2" stroke="#F24141" stroke-width="1.3"/>
<line x1="437.35" y1="901.2" x2="446.85" y2="901.2" stroke="#F24141" stroke-width="1.3"/>
<line x1="437.35" y1="943.2" x2="446.85" y2="943.2" stroke="#F24141" stroke-width="1.3"/>
<line x1="497.9" y1="778.2" x2="497.9" y2="816.8" stroke="#F24141" stroke-width="1.3"/>
<line x1="493.15" y1="778.2" x2="502.65" y2="778.2" stroke="#F24141" stroke-width="1.3"/>
<line x1="493.15" y1="816.8" x2="502.65" y2="816.8" stroke="#F24141" stroke-width="1.3"/>
<line x1="553.7" y1="686.3" x2="553.7" y2="690.3" stroke="#F24141" stroke-width="1.3"/>
<line x1="548.95" y1="686.3" x2="558.45" y2="686.3" stroke="#F24141" stroke-width="1.3"/>
<line x1="548.95" y1="690.3" x2="558.45" y2="690.3" stroke="#F24141" stroke-width="1.3"/>
<line x1="609.5" y1="594" x2="609.5" y2="597" stroke="#F24141" stroke-width="1.3"/>
<line x1="604.75" y1="594" x2="614.25" y2="594" stroke="#F24141" stroke-width="1.3"/>
<line x1="604.75" y1="597" x2="614.25" y2="597" stroke="#F24141" stroke-width="1.3"/>
<line x1="665.3" y1="594" x2="665.3" y2="597" stroke="#F24141" stroke-width="1.3"/>
<line x1="660.55" y1="594" x2="670.05" y2="594" stroke="#F24141" stroke-width="1.3"/>
<line x1="660.55" y1="597" x2="670.05" y2="597" stroke="#F24141" stroke-width="1.3"/>
<polyline points="163.1,1037.2 218.9,1035.2 274.7,1027.5 330.5,1011.4 386.3,977.2 442.1,922.2 497.9,797.5 553.7,688.3 609.5,595.5 665.3,595.5" fill="none" stroke="#F24141" stroke-width="1.5" stroke-linejoin="round"/>
<circle cx="163.1" cy="1037.2" r="3.47" fill="#F24141"/>
<circle cx="218.9" cy="1035.2" r="3.47" fill="#F24141"/>
<circle cx="274.7" cy="1027.5" r="3.47" fill="#F24141"/>
<circle cx="330.5" cy="1011.4" r="3.47" fill="#F24141"/>
<circle cx="386.3" cy="977.2" r="3.47" fill="#F24141"/>
<circle cx="442.1" cy="922.2" r="3.47" fill="#F24141"/>
<circle cx="497.9" cy="797.5" r="3.47" fill="#F24141"/>
<circle cx="553.7" cy="688.3" r="3.47" fill="#F24141"/>
<circle cx="609.5" cy="595.5" r="3.47" fill="#F24141"/>
<circle cx="665.3" cy="595.5" r="3.47" fill="#F24141"/>
</g>
<g>
<line x1="163.1" y1="1031.2" x2="163.1" y2="1043.2" stroke="#1A72DF" stroke-width="1.3"/>
<line x1="158.35" y1="1031.2" x2="167.85" y2="1031.2" stroke="#1A72DF" stroke-width="1.3"/>
<line x1="158.35" y1="1043.2" x2="167.85" y2="1043.2" stroke="#1A72DF" stroke-width="1.3"/>
<line x1="218.9" y1="1030" x2="218.9" y2="1034" stroke="#1A72DF" stroke-width="1.3"/>
<line x1="214.15" y1="1030" x2="223.65" y2="1030" stroke="#1A72DF" stroke-width="1.3"/>
<line x1="214.15" y1="1034" x2="223.65" y2="1034" stroke="#1A72DF" stroke-width="1.3"/>
<line x1="274.7" y1="1018.1" x2="274.7" y2="1022.1" stroke="#1A72DF" stroke-width="1.3"/>
<line x1="269.95" y1="1018.1" x2="279.45" y2="1018.1" stroke="#1A72DF" stroke-width="1.3"/>
<line x1="269.95" y1="1022.1" x2="279.45" y2="1022.1" stroke="#1A72DF" stroke-width="1.3"/>
<line x1="330.5" y1="993.6" x2="330.5" y2="997.6" stroke="#1A72DF" stroke-width="1.3"/>
<line x1="325.75" y1="993.6" x2="335.25" y2="993.6" stroke="#1A72DF" stroke-width="1.3"/>
<line x1="325.75" y1="997.6" x2="335.25" y2="997.6" stroke="#1A72DF" stroke-width="1.3"/>
<line x1="386.3" y1="939" x2="386.3" y2="948.2" stroke="#1A72DF" stroke-width="1.3"/>
<line x1="381.55" y1="939" x2="391.05" y2="939" stroke="#1A72DF" stroke-width="1.3"/>
<line x1="381.55" y1="948.2" x2="391.05" y2="948.2" stroke="#1A72DF" stroke-width="1.3"/>
<line x1="442.1" y1="852.8" x2="442.1" y2="863.2" stroke="#1A72DF" stroke-width="1.3"/>
<line x1="437.35" y1="852.8" x2="446.85" y2="852.8" stroke="#1A72DF" stroke-width="1.3"/>
<line x1="437.35" y1="863.2" x2="446.85" y2="863.2" stroke="#1A72DF" stroke-width="1.3"/>
<line x1="497.9" y1="686.8" x2="497.9" y2="689.8" stroke="#1A72DF" stroke-width="1.3"/>
<line x1="493.15" y1="686.8" x2="502.65" y2="686.8" stroke="#1A72DF" stroke-width="1.3"/>
<line x1="493.15" y1="689.8" x2="502.65" y2="689.8" stroke="#1A72DF" stroke-width="1.3"/>
<line x1="553.7" y1="591.6" x2="553.7" y2="596.6" stroke="#1A72DF" stroke-width="1.3"/>
<line x1="548.95" y1="591.6" x2="558.45" y2="591.6" stroke="#1A72DF" stroke-width="1.3"/>
<line x1="548.95" y1="596.6" x2="558.45" y2="596.6" stroke="#1A72DF" stroke-width="1.3"/>
<line x1="609.5" y1="592.6" x2="609.5" y2="595.6" stroke="#1A72DF" stroke-width="1.3"/>
<line x1="604.75" y1="592.6" x2="614.25" y2="592.6" stroke="#1A72DF" stroke-width="1.3"/>
<line x1="604.75" y1="595.6" x2="614.25" y2="595.6" stroke="#1A72DF" stroke-width="1.3"/>
<line x1="665.3" y1="592.6" x2="665.3" y2="595.6" stroke="#1A72DF" stroke-width="1.3"/>
<line x1="660.55" y1="592.6" x2="670.05" y2="592.6" stroke="#1A72DF" stroke-width="1.3"/>
<line x1="660.55" y1="595.6" x2="670.05" y2="595.6" stroke="#1A72DF" stroke-width="1.3"/>
<polyline points="163.1,1037.2 218.9,1032 274.7,1020.1 330.5,995.6 386.3,943.6 442.1,858 497.9,688.3 553.7,594.1 609.5,594.1 665.3,594.1" fill="none" stroke="#1A72DF" stroke-width="1.5" stroke-linejoin="round"/>
<polygon points="163.1,1032.79 166.88,1039.4 159.32,1039.4" fill="#1A72DF"/>
<polygon points="218.9,1027.59 222.68,1034.2 215.12,1034.2" fill="#1A72DF"/>
<polygon points="274.7,1015.69 278.48,1022.31 270.92,1022.31" fill="#1A72DF"/>
<polygon points="330.5,991.19 334.28,997.81 326.72,997.81" fill="#1A72DF"/>
<polygon points="386.3,939.19 390.08,945.81 382.52,945.81" fill="#1A72DF"/>
<polygon points="442.1,853.59 445.88,860.21 438.32,860.21" fill="#1A72DF"/>
<polygon points="497.9,683.89 501.68,690.5 494.12,690.5" fill="#1A72DF"/>
<polygon points="553.7,589.69 557.48,596.31 549.92,596.31" fill="#1A72DF"/>
<polygon points="609.5,589.69 613.28,596.31 605.72,596.31" fill="#1A72DF"/>
<polygon points="665.3,589.69 669.08,596.31 661.52,596.31" fill="#1A72DF"/>
</g>
<g>
<line x1="163.1" y1="1036.4" x2="163.1" y2="1040.4" stroke="#38AD6A" stroke-width="1.3"/>
<line x1="158.35" y1="1036.4" x2="167.85" y2="1036.4" stroke="#38AD6A" stroke-width="1.3"/>
<line x1="158.35" y1="1040.4" x2="167.85" y2="1040.4" stroke="#38AD6A" stroke-width="1.3"/>
<line x1="218.9" y1="1031" x2="218.9" y2="1035" stroke="#38AD6A" stroke-width="1.3"/>
<line x1="214.15" y1="1031" x2="223.65" y2="1031" stroke="#38AD6A" stroke-width="1.3"/>
<line x1="214.15" y1="1035" x2="223.65" y2="1035" stroke="#38AD6A" stroke-width="1.3"/>
<line x1="274.7" y1="1008.7" x2="274.7" y2="1020.7" stroke="#38AD6A" stroke-width="1.3"/>
<line x1="269.95" y1="1008.7" x2="279.45" y2="1008.7" stroke="#38AD6A" stroke-width="1.3"/>
<line x1="269.95" y1="1020.7" x2="279.45" y2="1020.7" stroke="#38AD6A" stroke-width="1.3"/>
<line x1="330.5" y1="1006.7" x2="330.5" y2="1010.7" stroke="#38AD6A" stroke-width="1.3"/>
<line x1="325.75" y1="1006.7" x2="335.25" y2="1006.7" stroke="#38AD6A" stroke-width="1.3"/>
<line x1="325.75" y1="1010.7" x2="335.25" y2="1010.7" stroke="#38AD6A" stroke-width="1.3"/>
<line x1="386.3" y1="972.6" x2="386.3" y2="976.6" stroke="#38AD6A" stroke-width="1.3"/>
<line x1="381.55" y1="972.6" x2="391.05" y2="972.6" stroke="#38AD6A" stroke-width="1.3"/>
<line x1="381.55" y1="976.6" x2="391.05" y2="976.6" stroke="#38AD6A" stroke-width="1.3"/>
<line x1="442.1" y1="896.7" x2="442.1" y2="899.7" stroke="#38AD6A" stroke-width="1.3"/>
<line x1="437.35" y1="896.7" x2="446.85" y2="896.7" stroke="#38AD6A" stroke-width="1.3"/>
<line x1="437.35" y1="899.7" x2="446.85" y2="899.7" stroke="#38AD6A" stroke-width="1.3"/>
<line x1="497.9" y1="781.5" x2="497.9" y2="793.5" stroke="#38AD6A" stroke-width="1.3"/>
<line x1="493.15" y1="781.5" x2="502.65" y2="781.5" stroke="#38AD6A" stroke-width="1.3"/>
<line x1="493.15" y1="793.5" x2="502.65" y2="793.5" stroke="#38AD6A" stroke-width="1.3"/>
<line x1="553.7" y1="662.8" x2="553.7" y2="684.2" stroke="#38AD6A" stroke-width="1.3"/>
<line x1="548.95" y1="662.8" x2="558.45" y2="662.8" stroke="#38AD6A" stroke-width="1.3"/>
<line x1="548.95" y1="684.2" x2="558.45" y2="684.2" stroke="#38AD6A" stroke-width="1.3"/>
<line x1="609.5" y1="605.3" x2="609.5" y2="647.7" stroke="#38AD6A" stroke-width="1.3"/>
<line x1="604.75" y1="605.3" x2="614.25" y2="605.3" stroke="#38AD6A" stroke-width="1.3"/>
<line x1="604.75" y1="647.7" x2="614.25" y2="647.7" stroke="#38AD6A" stroke-width="1.3"/>
<line x1="665.3" y1="622.5" x2="665.3" y2="630.5" stroke="#38AD6A" stroke-width="1.3"/>
<line x1="660.55" y1="622.5" x2="670.05" y2="622.5" stroke="#38AD6A" stroke-width="1.3"/>
<line x1="660.55" y1="630.5" x2="670.05" y2="630.5" stroke="#38AD6A" stroke-width="1.3"/>
<polyline points="163.1,1038.4 218.9,1033 274.7,1014.7 330.5,1008.7 386.3,974.6 442.1,898.2 497.9,787.5 553.7,673.5 609.5,626.5 665.3,626.5" fill="none" stroke="#38AD6A" stroke-width="1.5" stroke-linejoin="round"/>
<polygon points="163.1,1042.81 166.88,1036.2 159.32,1036.2" fill="#38AD6A"/>
<polygon points="218.9,1037.41 222.68,1030.8 215.12,1030.8" fill="#38AD6A"/>
<polygon points="274.7,1019.11 278.48,1012.5 270.92,1012.5" fill="#38AD6A"/>
<polygon points="330.5,1013.11 334.28,1006.5 326.72,1006.5" fill="#38AD6A"/>
<polygon points="386.3,979.01 390.08,972.39 382.52,972.39" fill="#38AD6A"/>
<polygon points="442.1,902.61 445.88,896 438.32,896" fill="#38AD6A"/>
<polygon points="497.9,791.91 501.68,785.29 494.12,785.29" fill="#38AD6A"/>
<polygon points="553.7,677.91 557.48,671.29 549.92,671.29" fill="#38AD6A"/>
<polygon points="609.5,630.91 613.28,624.29 605.72,624.29" fill="#38AD6A"/>
<polygon points="665.3,630.91 669.08,624.29 661.52,624.29" fill="#38AD6A"/>
</g>
<g>
<line x1="163.1" y1="989.6" x2="163.1" y2="1018.6" stroke="#B07ADF" stroke-width="1.3"/>
<line x1="158.35" y1="989.6" x2="167.85" y2="989.6" stroke="#B07ADF" stroke-width="1.3"/>
<line x1="158.35" y1="1018.6" x2="167.85" y2="1018.6" stroke="#B07ADF" stroke-width="1.3"/>
<line x1="218.9" y1="999.5" x2="218.9" y2="1005.5" stroke="#B07ADF" stroke-width="1.3"/>
<line x1="214.15" y1="999.5" x2="223.65" y2="999.5" stroke="#B07ADF" stroke-width="1.3"/>
<line x1="214.15" y1="1005.5" x2="223.65" y2="1005.5" stroke="#B07ADF" stroke-width="1.3"/>
<line x1="274.7" y1="993.9" x2="274.7" y2="996.9" stroke="#B07ADF" stroke-width="1.3"/>
<line x1="269.95" y1="993.9" x2="279.45" y2="993.9" stroke="#B07ADF" stroke-width="1.3"/>
<line x1="269.95" y1="996.9" x2="279.45" y2="996.9" stroke="#B07ADF" stroke-width="1.3"/>
<line x1="330.5" y1="966" x2="330.5" y2="970" stroke="#B07ADF" stroke-width="1.3"/>
<line x1="325.75" y1="966" x2="335.25" y2="966" stroke="#B07ADF" stroke-width="1.3"/>
<line x1="325.75" y1="970" x2="335.25" y2="970" stroke="#B07ADF" stroke-width="1.3"/>
<line x1="386.3" y1="938.2" x2="386.3" y2="957.4" stroke="#B07ADF" stroke-width="1.3"/>
<line x1="381.55" y1="938.2" x2="391.05" y2="938.2" stroke="#B07ADF" stroke-width="1.3"/>
<line x1="381.55" y1="957.4" x2="391.05" y2="957.4" stroke="#B07ADF" stroke-width="1.3"/>
<line x1="442.1" y1="919.3" x2="442.1" y2="934.5" stroke="#B07ADF" stroke-width="1.3"/>
<line x1="437.35" y1="919.3" x2="446.85" y2="919.3" stroke="#B07ADF" stroke-width="1.3"/>
<line x1="437.35" y1="934.5" x2="446.85" y2="934.5" stroke="#B07ADF" stroke-width="1.3"/>
<line x1="497.9" y1="714.1" x2="497.9" y2="780.7" stroke="#B07ADF" stroke-width="1.3"/>
<line x1="493.15" y1="714.1" x2="502.65" y2="714.1" stroke="#B07ADF" stroke-width="1.3"/>
<line x1="493.15" y1="780.7" x2="502.65" y2="780.7" stroke="#B07ADF" stroke-width="1.3"/>
<line x1="553.7" y1="599.9" x2="553.7" y2="605.9" stroke="#B07ADF" stroke-width="1.3"/>
<line x1="548.95" y1="599.9" x2="558.45" y2="599.9" stroke="#B07ADF" stroke-width="1.3"/>
<line x1="548.95" y1="605.9" x2="558.45" y2="605.9" stroke="#B07ADF" stroke-width="1.3"/>
<line x1="609.5" y1="600.9" x2="609.5" y2="604.9" stroke="#B07ADF" stroke-width="1.3"/>
<line x1="604.75" y1="600.9" x2="614.25" y2="600.9" stroke="#B07ADF" stroke-width="1.3"/>
<line x1="604.75" y1="604.9" x2="614.25" y2="604.9" stroke="#B07ADF" stroke-width="1.3"/>
<line x1="665.3" y1="601.3" x2="665.3" y2="605.3" stroke="#B07ADF" stroke-width="1.3"/>
<line x1="660.55" y1="601.3" x2="670.05" y2="601.3" stroke="#B07ADF" stroke-width="1.3"/>
<line x1="660.55" y1="605.3" x2="670.05" y2="605.3" stroke="#B07ADF" stroke-width="1.3"/>
<polyline points="163.1,1004.1 218.9,1002.5 274.7,995.4 330.5,968 386.3,947.8 442.1,926.9 497.9,747.4 553.7,602.9 609.5,602.9 665.3,603.3" fill="none" stroke="#B07ADF" stroke-width="1.5" stroke-linejoin="round"/>
<polygon points="163.1,999.88 167.32,1004.1 163.1,1008.32 158.88,1004.1" fill="#B07ADF"/>
<polygon points="218.9,998.28 223.12,1002.5 218.9,1006.72 214.68,1002.5" fill="#B07ADF"/>
<polygon points="274.7,991.18 278.92,995.4 274.7,999.62 270.48,995.4" fill="#B07ADF"/>
<polygon points="330.5,963.78 334.72,968 330.5,972.22 326.28,968" fill="#B07ADF"/>
<polygon points="386.3,943.58 390.52,947.8 386.3,952.02 382.08,947.8" fill="#B07ADF"/>
<polygon points="442.1,922.68 446.32,926.9 442.1,931.12 437.88,926.9" fill="#B07ADF"/>
<polygon points="497.9,743.18 502.12,747.4 497.9,751.62 493.68,747.4" fill="#B07ADF"/>
<polygon points="553.7,598.68 557.92,602.9 553.7,607.12 549.48,602.9" fill="#B07ADF"/>
<polygon points="609.5,598.68 613.72,602.9 609.5,607.12 605.28,602.9" fill="#B07ADF"/>
<polygon points="665.3,599.08 669.52,603.3 665.3,607.52 661.08,603.3" fill="#B07ADF"/>
</g>
<g>
<line x1="163.1" y1="600.3" x2="163.1" y2="606.3" stroke="#CC9900" stroke-width="1.3"/>
<line x1="158.35" y1="600.3" x2="167.85" y2="600.3" stroke="#CC9900" stroke-width="1.3"/>
<line x1="158.35" y1="606.3" x2="167.85" y2="606.3" stroke="#CC9900" stroke-width="1.3"/>
<line x1="218.9" y1="596.5" x2="218.9" y2="598.5" stroke="#CC9900" stroke-width="1.3"/>
<line x1="214.15" y1="596.5" x2="223.65" y2="596.5" stroke="#CC9900" stroke-width="1.3"/>
<line x1="214.15" y1="598.5" x2="223.65" y2="598.5" stroke="#CC9900" stroke-width="1.3"/>
<line x1="274.7" y1="593.4" x2="274.7" y2="596.4" stroke="#CC9900" stroke-width="1.3"/>
<line x1="269.95" y1="593.4" x2="279.45" y2="593.4" stroke="#CC9900" stroke-width="1.3"/>
<line x1="269.95" y1="596.4" x2="279.45" y2="596.4" stroke="#CC9900" stroke-width="1.3"/>
<line x1="330.5" y1="590.7" x2="330.5" y2="592.7" stroke="#CC9900" stroke-width="1.3"/>
<line x1="325.75" y1="590.7" x2="335.25" y2="590.7" stroke="#CC9900" stroke-width="1.3"/>
<line x1="325.75" y1="592.7" x2="335.25" y2="592.7" stroke="#CC9900" stroke-width="1.3"/>
<polyline points="163.1,603.3 218.9,597.5 274.7,594.9 330.5,591.7 386.3,591.9 442.1,591.9 497.9,591.9 553.7,591.9 609.5,591.9 665.3,591.9" fill="none" stroke="#CC9900" stroke-width="1.5" stroke-linejoin="round"/>
<polygon points="158.69,603.3 165.31,599.52 165.31,607.08" fill="#CC9900"/>
<polygon points="214.49,597.5 221.1,593.72 221.1,601.28" fill="#CC9900"/>
<polygon points="270.29,594.9 276.9,591.12 276.9,598.68" fill="#CC9900"/>
<polygon points="326.09,591.7 332.7,587.92 332.7,595.48" fill="#CC9900"/>
<polygon points="381.89,591.9 388.5,588.12 388.5,595.68" fill="#CC9900"/>
<polygon points="437.69,591.9 444.3,588.12 444.3,595.68" fill="#CC9900"/>
<polygon points="493.49,591.9 500.1,588.12 500.1,595.68" fill="#CC9900"/>
<polygon points="549.29,591.9 555.9,588.12 555.9,595.68" fill="#CC9900"/>
<polygon points="605.09,591.9 611.71,588.12 611.71,595.68" fill="#CC9900"/>
<polygon points="660.89,591.9 667.5,588.12 667.5,595.68" fill="#CC9900"/>
</g>
<text x="11.7" y="1127.3" font-size="39" font-weight="bold">C</text>
<defs><pattern id="h0" patternUnits="userSpaceOnUse" x="144.5" y="1217.1" width="12.6" height="12.6"><path d="M-1,1 L1,-1 M0,12.6 L12.6,0 M11.6,13.6 L13.6,11.6" stroke="#000" stroke-width="1.5"/></pattern></defs>
<rect x="144.5" y="1217.1" width="67.2" height="374.9" fill="url(#h0)" stroke="#000" stroke-width="2.3"/>
<line x1="178.1" y1="1195.8" x2="178.1" y2="1237.4" stroke="#222" stroke-width="1.4"/>
<line x1="173.35" y1="1195.8" x2="182.85" y2="1195.8" stroke="#222" stroke-width="1.4"/>
<line x1="173.35" y1="1237.4" x2="182.85" y2="1237.4" stroke="#222" stroke-width="1.4"/>
<text x="179.3" y="1190.3" font-size="21.8" text-anchor="middle">a</text>
<text x="183" y="1623.4" font-size="22" text-anchor="middle">Zhuanghe</text>
<defs><pattern id="h1" patternUnits="userSpaceOnUse" x="257.1" y="1207.9" width="12.6" height="12.6"><path d="M-1,1 L1,-1 M0,12.6 L12.6,0 M11.6,13.6 L13.6,11.6" stroke="#000" stroke-width="1.5"/></pattern></defs>
<rect x="257.1" y="1207.9" width="67.2" height="384.1" fill="url(#h1)" stroke="#000" stroke-width="2.3"/>
<line x1="290.7" y1="1183.5" x2="290.7" y2="1231.7" stroke="#222" stroke-width="1.4"/>
<line x1="285.95" y1="1183.5" x2="295.45" y2="1183.5" stroke="#222" stroke-width="1.4"/>
<line x1="285.95" y1="1231.7" x2="295.45" y2="1231.7" stroke="#222" stroke-width="1.4"/>
<text x="291.9" y="1178" font-size="21.8" text-anchor="middle">a</text>
<text x="299.1" y="1623.4" font-size="22" text-anchor="middle">kedong</text>
<defs><pattern id="h2" patternUnits="userSpaceOnUse" x="369.7" y="1317.5" width="12.6" height="12.6"><path d="M-1,1 L1,-1 M0,12.6 L12.6,0 M11.6,13.6 L13.6,11.6" stroke="#000" stroke-width="1.5"/></pattern></defs>
<rect x="369.7" y="1317.5" width="67.2" height="274.5" fill="url(#h2)" stroke="#000" stroke-width="2.3"/>
<line x1="403.3" y1="1311.5" x2="403.3" y2="1323.1" stroke="#222" stroke-width="1.4"/>
<line x1="398.55" y1="1311.5" x2="408.05" y2="1311.5" stroke="#222" stroke-width="1.4"/>
<line x1="398.55" y1="1323.1" x2="408.05" y2="1323.1" stroke="#222" stroke-width="1.4"/>
<text x="404.5" y="1306" font-size="21.8" text-anchor="middle">b</text>
<text x="408.3" y="1623.4" font-size="22" text-anchor="middle">Beian</text>
<defs><pattern id="h3" patternUnits="userSpaceOnUse" x="482.3" y="1452.4" width="12.6" height="12.6"><path d="M-1,1 L1,-1 M0,12.6 L12.6,0 M11.6,13.6 L13.6,11.6" stroke="#000" stroke-width="1.5"/></pattern></defs>
<rect x="482.3" y="1452.4" width="67.2" height="139.6" fill="url(#h3)" stroke="#000" stroke-width="2.3"/>
<line x1="515.9" y1="1440.7" x2="515.9" y2="1464" stroke="#222" stroke-width="1.4"/>
<line x1="511.15" y1="1440.7" x2="520.65" y2="1440.7" stroke="#222" stroke-width="1.4"/>
<line x1="511.15" y1="1464" x2="520.65" y2="1464" stroke="#222" stroke-width="1.4"/>
<text x="517.1" y="1435.2" font-size="21.8" text-anchor="middle">c</text>
<text x="522.4" y="1623.4" font-size="22" text-anchor="middle">Binxian</text>
<defs><pattern id="h4" patternUnits="userSpaceOnUse" x="594.9" y="1311.3" width="12.6" height="12.6"><path d="M-1,1 L1,-1 M0,12.6 L12.6,0 M11.6,13.6 L13.6,11.6" stroke="#000" stroke-width="1.5"/></pattern></defs>
<rect x="594.9" y="1311.3" width="67.2" height="280.7" fill="url(#h4)" stroke="#000" stroke-width="2.3"/>
<line x1="628.5" y1="1306.5" x2="628.5" y2="1316" stroke="#222" stroke-width="1.4"/>
<line x1="623.75" y1="1306.5" x2="633.25" y2="1306.5" stroke="#222" stroke-width="1.4"/>
<line x1="623.75" y1="1316" x2="633.25" y2="1316" stroke="#222" stroke-width="1.4"/>
<text x="629.7" y="1301" font-size="21.8" text-anchor="middle">b</text>
<text x="631" y="1623.4" font-size="22" text-anchor="middle">Panshi</text>
<line x1="122" y1="1137.4" x2="122" y2="1596.7" stroke="#000" stroke-width="3.6"/>
<line x1="113.6" y1="1592" x2="685" y2="1592" stroke="#000" stroke-width="4"/>
<line x1="113.9" y1="1592.4" x2="122" y2="1592.4" stroke="#000" stroke-width="3.5"/>
<text x="102.8" y="1599.8" font-size="22.6" text-anchor="end">0.00</text>
<line x1="113.9" y1="1527.6" x2="122" y2="1527.6" stroke="#000" stroke-width="3.5"/>
<text x="102.8" y="1534.2" font-size="22.6" text-anchor="end">0.05</text>
<line x1="113.9" y1="1462.8" x2="122" y2="1462.8" stroke="#000" stroke-width="3.5"/>
<text x="102.8" y="1468.6" font-size="22.6" text-anchor="end">0.10</text>
<line x1="113.9" y1="1398" x2="122" y2="1398" stroke="#000" stroke-width="3.5"/>
<text x="102.8" y="1403" font-size="22.6" text-anchor="end">0.15</text>
<line x1="113.9" y1="1333.2" x2="122" y2="1333.2" stroke="#000" stroke-width="3.5"/>
<text x="102.8" y="1337.4" font-size="22.6" text-anchor="end">0.20</text>
<line x1="113.9" y1="1268.4" x2="122" y2="1268.4" stroke="#000" stroke-width="3.5"/>
<text x="102.8" y="1271.8" font-size="22.6" text-anchor="end">0.25</text>
<line x1="113.9" y1="1203.6" x2="122" y2="1203.6" stroke="#000" stroke-width="3.5"/>
<text x="102.8" y="1206.2" font-size="22.6" text-anchor="end">0.30</text>
<line x1="113.9" y1="1138.8" x2="122" y2="1138.8" stroke="#000" stroke-width="3.5"/>
<text x="102.8" y="1140.6" font-size="22.6" text-anchor="end">0.35</text>
<line x1="118.2" y1="1560" x2="122" y2="1560" stroke="#000" stroke-width="3.2"/>
<line x1="118.2" y1="1495.2" x2="122" y2="1495.2" stroke="#000" stroke-width="3.2"/>
<line x1="118.2" y1="1430.4" x2="122" y2="1430.4" stroke="#000" stroke-width="3.2"/>
<line x1="118.2" y1="1365.6" x2="122" y2="1365.6" stroke="#000" stroke-width="3.2"/>
<line x1="118.2" y1="1300.8" x2="122" y2="1300.8" stroke="#000" stroke-width="3.2"/>
<line x1="118.2" y1="1236" x2="122" y2="1236" stroke="#000" stroke-width="3.2"/>
<line x1="118.2" y1="1171.2" x2="122" y2="1171.2" stroke="#000" stroke-width="3.2"/>
<line x1="178.1" y1="1592" x2="178.1" y2="1600.8" stroke="#000" stroke-width="3.8"/>
<line x1="234.4" y1="1592" x2="234.4" y2="1596.5" stroke="#000" stroke-width="3.6"/>
<line x1="290.7" y1="1592" x2="290.7" y2="1600.8" stroke="#000" stroke-width="3.8"/>
<line x1="347" y1="1592" x2="347" y2="1596.5" stroke="#000" stroke-width="3.6"/>
<line x1="403.3" y1="1592" x2="403.3" y2="1600.8" stroke="#000" stroke-width="3.8"/>
<line x1="459.6" y1="1592" x2="459.6" y2="1596.5" stroke="#000" stroke-width="3.6"/>
<line x1="515.9" y1="1592" x2="515.9" y2="1600.8" stroke="#000" stroke-width="3.8"/>
<line x1="572.2" y1="1592" x2="572.2" y2="1596.5" stroke="#000" stroke-width="3.6"/>
<line x1="628.5" y1="1592" x2="628.5" y2="1600.8" stroke="#000" stroke-width="3.8"/>
<line x1="684.8" y1="1592" x2="684.8" y2="1596.5" stroke="#000" stroke-width="3.6"/>
<text x="325.4" y="1670.5" font-size="25">Provenance</text>
<text transform="translate(20.9,1573.7) rotate(-90)" x="-0.7" y="0" font-size="24.83">Fe<tspan font-size="15" dy="-9">2+</tspan><tspan dy="9"> reducing activity (mmoL Fe</tspan><tspan font-size="15" dy="-9">2+</tspan><tspan dy="9">/g)</tspan></text>
</svg></body></html>
